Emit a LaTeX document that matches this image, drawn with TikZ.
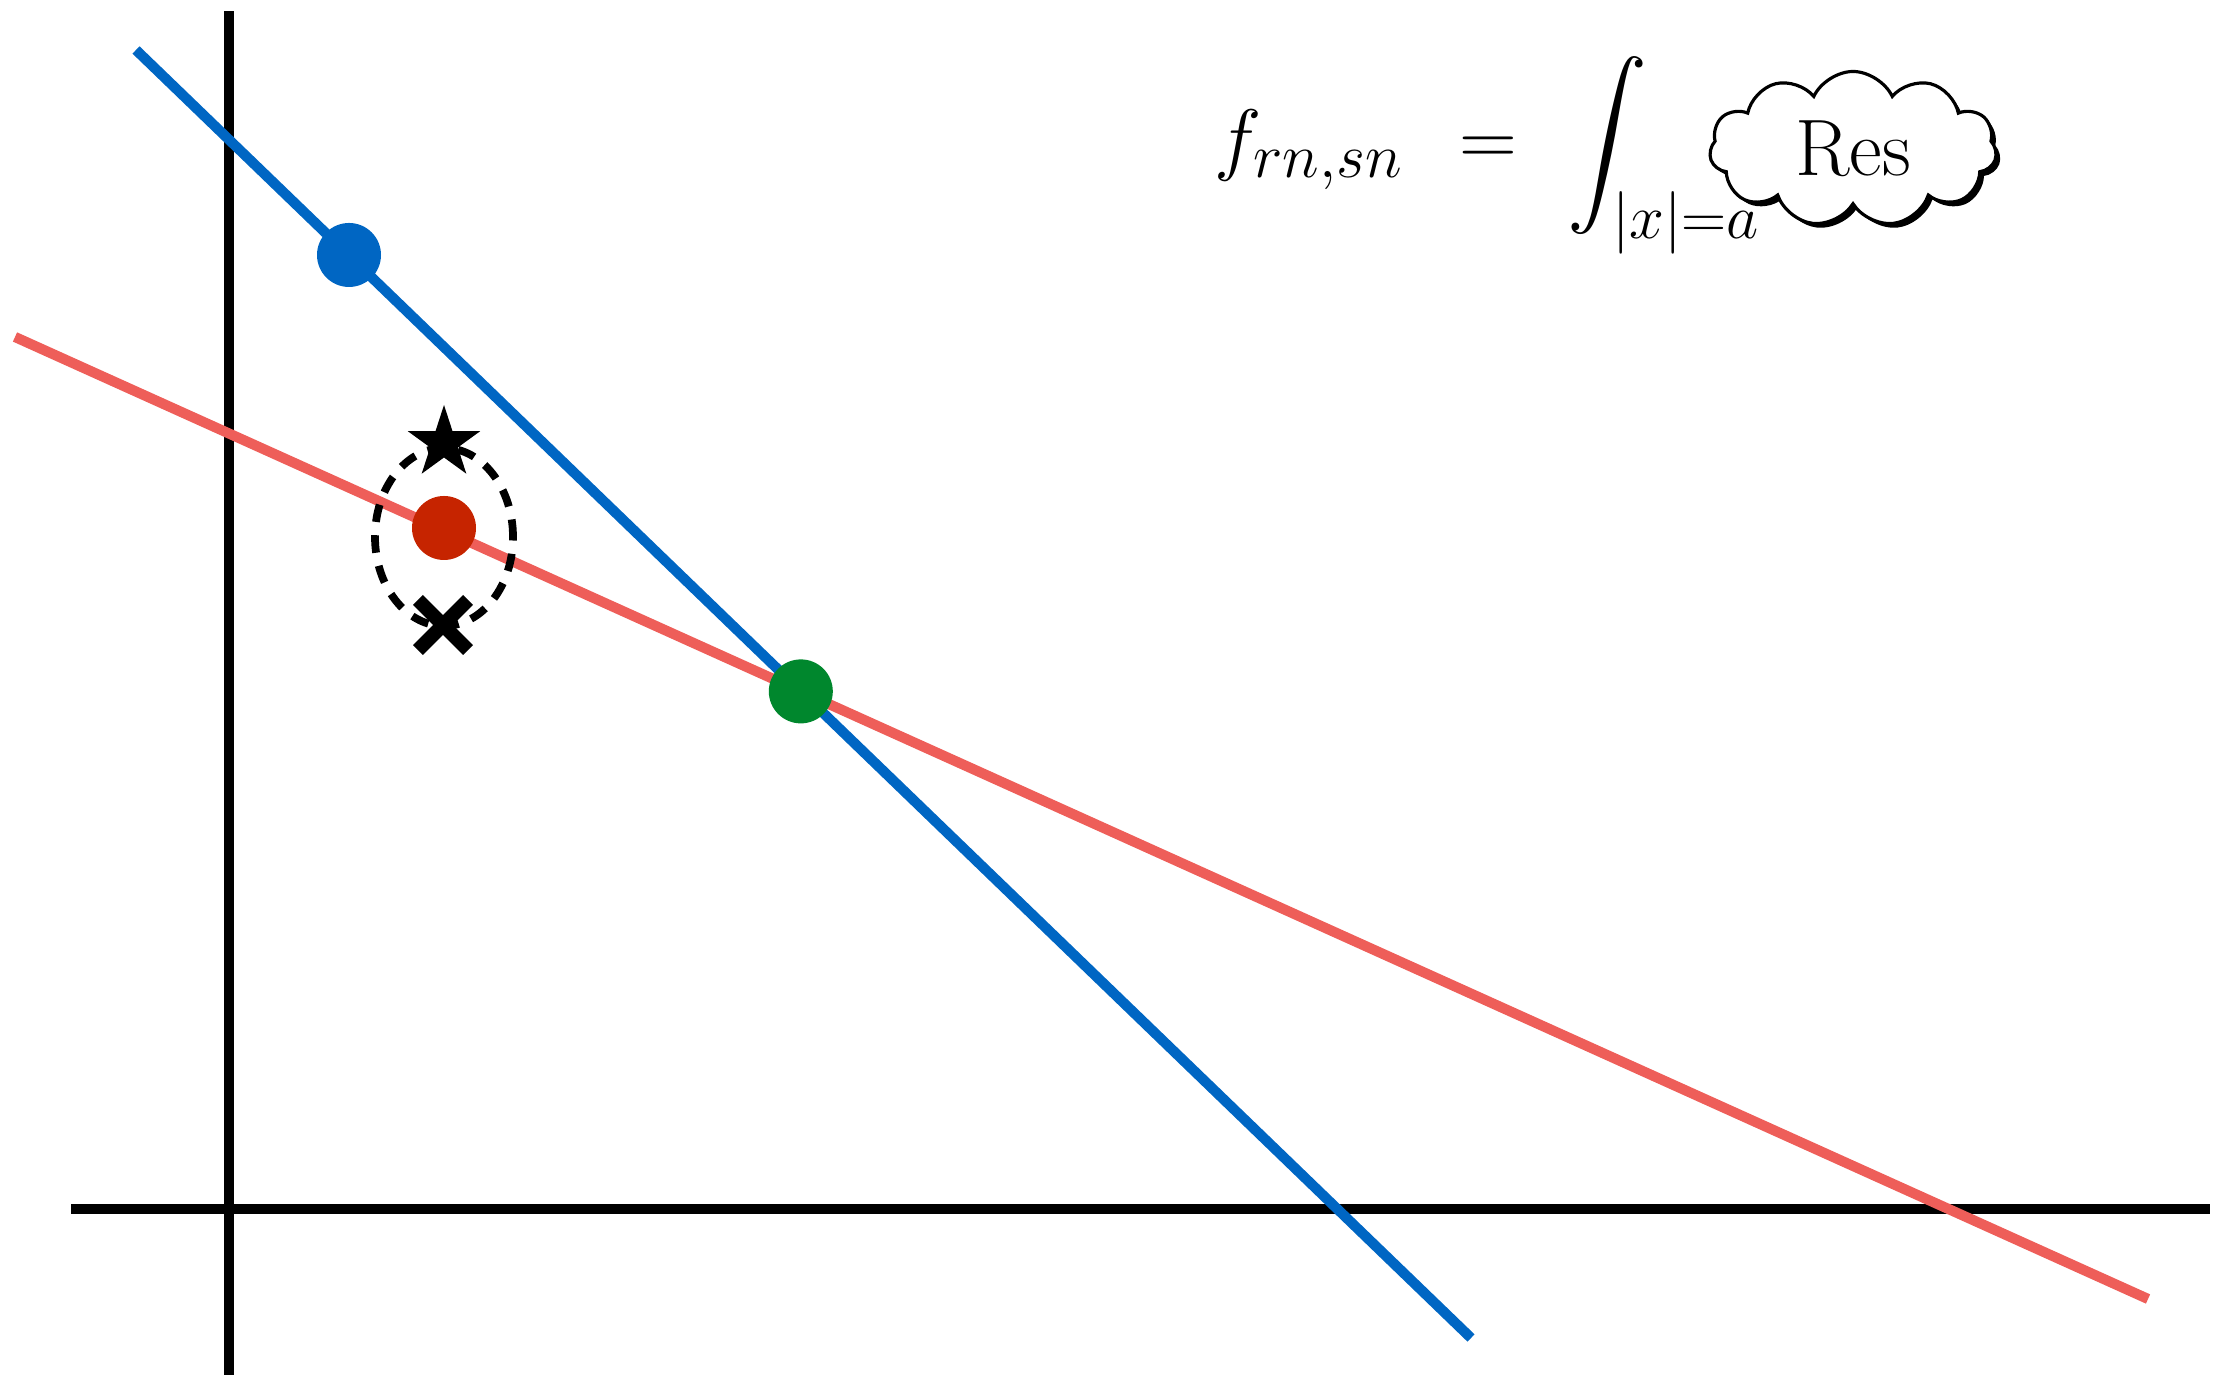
\documentclass[tikz,border=0pt]{standalone}
\usepackage{fix-cm}
\DeclareFontShape{OMX}{cmex}{m}{n}{<->cmex10}{}
\usetikzlibrary{shapes.geometric,shapes.symbols,shapes.misc,shadows}
\DeclareMathSizes{22.8}{22.8}{17.8}{13}
\definecolor{lineblue}{HTML}{0066C3}
\definecolor{linered}{HTML}{EE5E59}
\definecolor{dotred}{HTML}{C62400}
\definecolor{dotgreen}{HTML}{00872D}
\tikzset{axis/.style={line width=3.1pt,draw=black},
  graph/.style={line width=2.9pt},
  dot/.style={circle,inner sep=0pt,minimum size=6.4mm},
  formula/.style={inner sep=0pt,font=\fontsize{22.8}{27}\selectfont}}

\begin{document}
\begin{tikzpicture}
\useasboundingbox (0,0) rectangle (22.18,13.75);
\coordinate (yb) at (2.29,0);
\coordinate (yt) at (2.29,13.64);
\coordinate (xl) at (0.71,1.66);
\coordinate (xr) at (22.10,1.66);
\coordinate (b1) at (1.36,13.25);
\coordinate (b2) at (14.71,0.37);
\coordinate (r1) at (0.15,10.38);
\coordinate (r2) at (21.48,0.76);
\draw[axis] (yb) -- (yt);
\draw[axis] (xl) -- (xr);
\draw[graph,lineblue] (b1) -- (b2);
\draw[graph,linered] (r1) -- (r2);
\node[ellipse,draw,line width=2.2pt,dash pattern=on 5pt off 3.8pt,minimum width=13.8mm,minimum height=17.8mm,inner sep=0pt] (ring) at (4.44,8.38) {};
\node[star,star points=5,star point ratio=2.618,fill=black,inner sep=0pt,minimum size=7.6mm] (top) at (4.44,9.32) {};
\node[cross out,draw,line width=4pt,minimum size=3.6mm,inner sep=0pt] (bot) at (4.43,7.50) {};
\node[dot,fill=lineblue] (pb) at (3.49,11.20) {};
\node[dot,fill=dotred] (pr) at (4.44,8.47) {};
\node[dot,fill=dotgreen] (pg) at (intersection of b1--b2 and r1--r2) {};
\node[formula,cloud,cloud puffs=11,cloud puff arc=130,aspect=1.85,draw,line width=0.9pt,fill=white,
  minimum width=28.7mm,minimum height=15.5mm,
  drop shadow={shadow xshift=1.2pt,shadow yshift=-1.2pt,fill=black,opacity=1}] (res) at (18.53,12.26) {Res};
\node[formula,anchor=base west] (lhs) at (12.14,12.09) {$f_{rn,sn}$};
\node[formula,anchor=base] (eqsign) at (14.88,12.09) {$=$};
\node[formula,anchor=base west] (integral) at (15.67,12.09) {$\displaystyle\int_{|x|=a}$};
\end{tikzpicture}
\end{document}
